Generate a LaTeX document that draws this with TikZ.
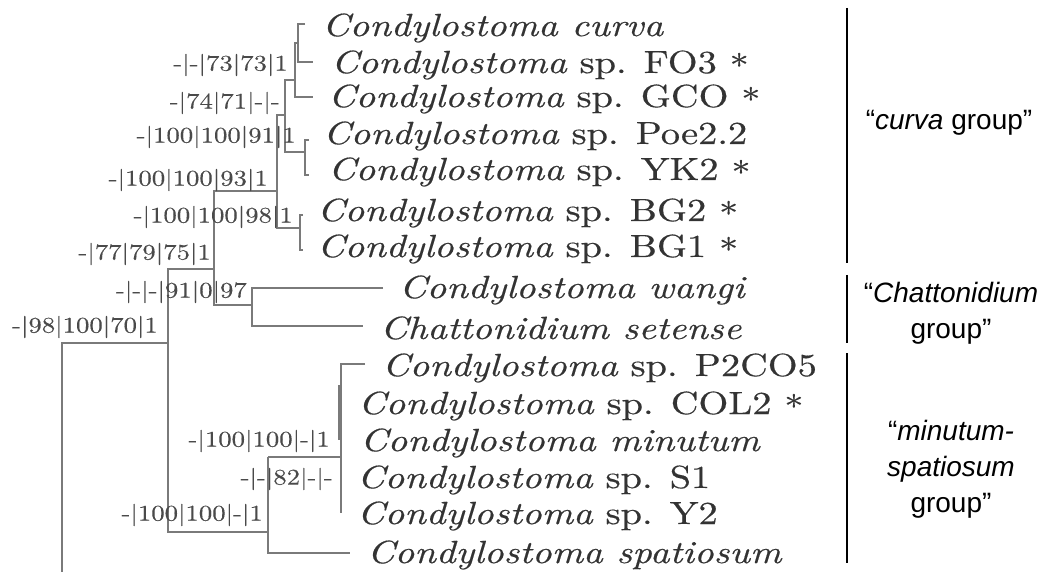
\documentclass[tikz,border=0pt]{standalone}
\usepackage{fontspec}
\newfontfamily\treefont{lmroman10-regular.otf}[FakeStretch=1.2, FakeBold=0.4]
\newfontfamily\treeit{lmroman10-italic.otf}[FakeStretch=1.2, FakeBold=0.4]
\newfontfamily\labfont{lmroman10-regular.otf}[FakeStretch=1.2, FakeBold=0.3]
\newfontfamily\grpfont{Liberation Sans}
\definecolor{brc}{HTML}{7A7A7A}
\definecolor{spc}{HTML}{333333}
\definecolor{lbc}{HTML}{4A4A4A}
\tikzset{
  br/.style={draw=brc, line width=2.2pt, line join=miter},
  sp/.style={anchor=west, inner sep=0pt, text=spc, font=\treefont\fontsize{32}{32}\selectfont},
  lb/.style={anchor=east, inner sep=0pt, text=lbc, font=\labfont\fontsize{22.3}{22.3}\selectfont},
  grp/.style={align=center, inner sep=0pt, text=black, font=\grpfont\fontsize{28}{36}\selectfont},
  gline/.style={draw=black, line width=2.4pt}
}
\newcommand{\Cd}{{\treeit Condylostoma}}
\newcommand{\myast}{\raisebox{-0.12em}{*}}
\begin{document}
\begin{tikzpicture}[x=1pt, y=-1pt]
\useasboundingbox (0,0) rectangle (1045,572);
% species
\node[sp] (s1) at (322,28) {{\treeit Condylostoma curva}};
\node[sp] (s2) at (331,65) {\Cd{} sp. FO3 \myast};
\node[sp] (s3) at (328,99) {\Cd{} sp. GCO \myast};
\node[sp] (s4) at (323,136) {\Cd{} sp. Poe2.2};
\node[sp] (s5) at (328,172) {\Cd{} sp. YK2 \myast};
\node[sp] (s6) at (317,213) {\Cd{} sp. BG2 \myast};
\node[sp] (s7) at (317,249) {\Cd{} sp. BG1 \myast};
\node[sp] (s8) at (399,290) {{\treeit Condylostoma wangi}};
\node[sp] (s9) at (380,328) {{\treeit Chattonidium setense}};
\node[sp] (s10) at (382,368) {\Cd{} sp. P2CO5};
\node[sp] (s11) at (358,406) {\Cd{} sp. COL2 \myast};
\node[sp] (s12) at (360,443) {{\treeit Condylostoma minutum}};
\node[sp] (s13) at (357,480) {\Cd{} sp. S1};
\node[sp] (s14) at (357,516) {\Cd{} sp. Y2};
\node[sp] (s15) at (367,555) {{\treeit Condylostoma spatiosum}};
% tree
\coordinate (n1) at (298,43);
\coordinate (n2) at (295,80);
\coordinate (n3) at (285,115);
\coordinate (n4) at (305,152);
\coordinate (n5) at (277,191);
\coordinate (n6) at (300,228);
\coordinate (n7) at (214,269);
\coordinate (n8) at (252,305);
\coordinate (n9) at (168,343);
\coordinate (n10) at (268,532);
\coordinate (n11) at (341,457);
\coordinate (root) at (62,572);
\draw[br] (305,24) -- (298,24) -- (298,62) -- (313,62);
\draw[br] (n1) -- (295,43) -- (295,97) -- (313,97);
\draw[br] (n2) -- (285,80) -- (285,152) -- (n4);
\draw[br] (309,140) -- (305,140) -- (305,175) -- (309,175);
\draw[br] (n3) -- (277,115) -- (277,228) -- (n6);
\draw[br] (303,215) -- (300,215) -- (300,250) -- (303,250);
\draw[br] (n5) -- (214,191) -- (214,305) -- (n8);
\draw[br] (383,288) -- (252,288) -- (252,326) -- (363,326);
\draw[br] (n7) -- (168,269) -- (168,532) -- (n10);
\draw[br] (n9) -- (62,343) -- (root);
\draw[br] (268,457) -- (268,553) -- (350,553);
\draw[br] (268,457) -- (n11);
\draw[br] (365,364) -- (341,364) -- (341,513);
\draw[br] (339,385) -- (339,440);
% support labels
\node[lb] (l1) at (288,65) {-|-|73|73|1};
\node[lb] (l2) at (280,103) {-|74|71|-|-};
\node[lb] (l3) at (296,137) {-|100|100|91|1};
\node[lb] (l4) at (268,180) {-|100|100|93|1};
\node[lb] (l5) at (293,217) {-|100|100|98|1};
\node[lb] (l6) at (211,254) {-|77|79|75|1};
\node[lb] (l7) at (247,292) {-|-|-|91|0|97};
\node[lb] (l8) at (158,327) {-|98|100|70|1};
\node[lb] (l9) at (330,441) {-|100|100|-|1};
\node[lb] (l10) at (333,479) {-|-|82|-|-};
\node[lb] (l11) at (263,515) {-|100|100|-|1};
% group bars
\coordinate (g1a) at (847,8);
\coordinate (g1b) at (847,263);
\coordinate (g2a) at (847,275);
\coordinate (g2b) at (847,343);
\coordinate (g3a) at (847,353);
\coordinate (g3b) at (847,563);
\draw[gline] (g1a) -- (g1b);
\draw[gline] (g2a) -- (g2b);
\draw[gline] (g3a) -- (g3b);
\node[grp] (G1) at (949,123) {“\textit{curva} group”};
\node[grp] (G2) at (951,313) {“\textit{Chattonidium}\\group”};
\node[grp] (G3) at (951,469) {“\textit{minutum-}\\\textit{spatiosum}\\group”};
\end{tikzpicture}
\end{document}
